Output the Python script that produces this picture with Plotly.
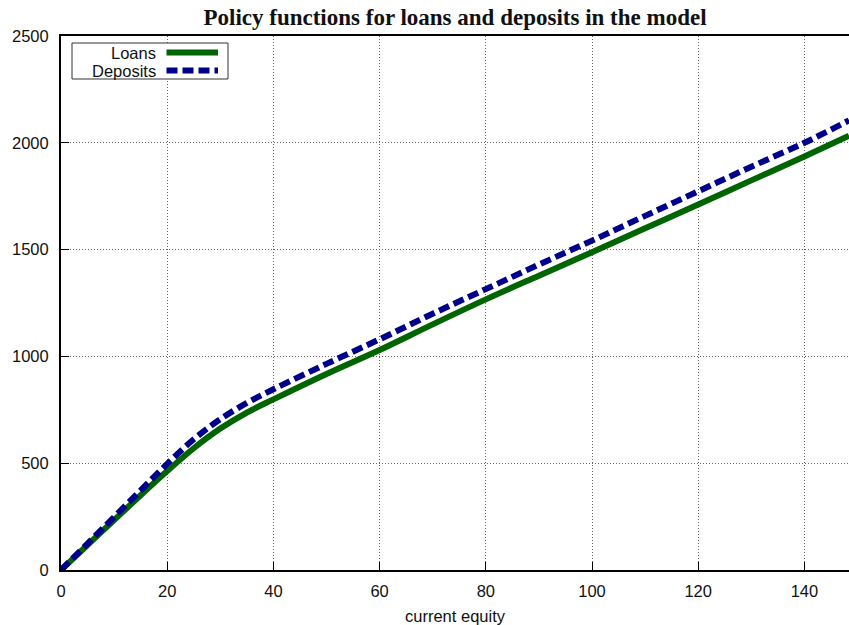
import plotly.graph_objects as go

# Policy functions read on a grid of current equity
equity = [0, 5, 10, 15, 20, 25, 30, 35, 40, 50, 60, 70, 80, 90, 100, 110, 120, 130, 140, 148.4]
loans = [0, 117, 234, 350, 463, 570, 662, 737, 799, 918, 1030, 1150, 1267, 1378, 1488, 1600, 1711, 1824, 1936, 2033]
deposits = [0, 124, 248, 373, 497, 612, 706, 782, 846, 965, 1080, 1200, 1315, 1430, 1542, 1658, 1773, 1888, 2000, 2105]

series_names = ["Loans", "Deposits"]
x_ticks = [0, 20, 40, 60, 80, 100, 120, 140]
y_ticks = [0, 500, 1000, 1500, 2000, 2500]

W, H = 849, 625
L, R, T, B = 61, 0, 36, 55
PW, PH = W - L - R, H - T - B

green = "#006400"
blue = "#00008b"
blue_dash = "11px,5px"
grid_dash = "1px,2px"

fig = go.Figure()
fig.add_trace(go.Scatter(x=equity, y=loans, mode="lines", name=series_names[0],
                         line=dict(color=green, width=6, shape="spline", smoothing=1.0)))
fig.add_trace(go.Scatter(x=equity, y=deposits, mode="lines", name=series_names[1],
                         line=dict(color=blue, width=6, dash=blue_dash, shape="spline", smoothing=1.0)))

axis_font = dict(family="Liberation Sans, Arial, sans-serif", size=16.5, color="#111")

fig.update_layout(
    width=W, height=H,
    margin=dict(l=L, r=R, t=T, b=B, pad=0),
    paper_bgcolor="white", plot_bgcolor="white",
    showlegend=False,
    title=dict(text="<b>Policy functions for loans and deposits in the model</b>",
               font=dict(family="Liberation Serif, Times New Roman, serif", size=23, color="#111"),
               x=(L + W) / 2 / W, xanchor="center", y=1 - 17 / H, yanchor="middle"),
    xaxis=dict(range=[0, 148.4], tickvals=x_ticks, ticks="inside", ticklen=8, tickcolor="black",
               showline=True, linecolor="black", linewidth=2, mirror=True,
               showgrid=True, gridcolor="#666", griddash=grid_dash, gridwidth=1,
               zeroline=False, tickfont=axis_font, ticklabelstandoff=5,
               title=dict(text="current equity", font=axis_font, standoff=14)),
    yaxis=dict(range=[0, 2500], tickvals=y_ticks, ticks="inside", ticklen=8, tickcolor="black",
               showline=True, linecolor="black", linewidth=2, mirror=False,
               showgrid=True, gridcolor="#666", griddash=grid_dash, gridwidth=1,
               zeroline=False, tickfont=axis_font, ticklabelstandoff=7),
)

# Key box in the top-left corner, text placed left of each line sample.
# Paper coordinates span the plotting area, so convert from pixel offsets.
def px_x(v):
    return (v - L) / PW

def px_y(v):
    return 1 - (v - T) / PH

fig.add_shape(type="rect", xref="paper", yref="paper",
              x0=px_x(72), x1=px_x(228), y0=px_y(79), y1=px_y(43),
              line=dict(color="#333", width=1), fillcolor="white", layer="above")
for i, (name, color, dash) in enumerate([(series_names[0], green, "solid"),
                                         (series_names[1], blue, blue_dash)]):
    yc = 52.5 + 18 * i
    fig.add_annotation(xref="paper", yref="paper", x=px_x(157), y=px_y(yc),
                       text=name, showarrow=False, xanchor="right", yanchor="middle",
                       borderpad=0,
                       font=dict(family="Liberation Sans, Arial, sans-serif", size=16.5, color="#111"))
    fig.add_shape(type="line", xref="paper", yref="paper",
                  x0=px_x(166.5), x1=px_x(218), y0=px_y(yc), y1=px_y(yc),
                  line=dict(color=color, width=6, dash=dash), layer="above")

fig.write_html("out.html")
